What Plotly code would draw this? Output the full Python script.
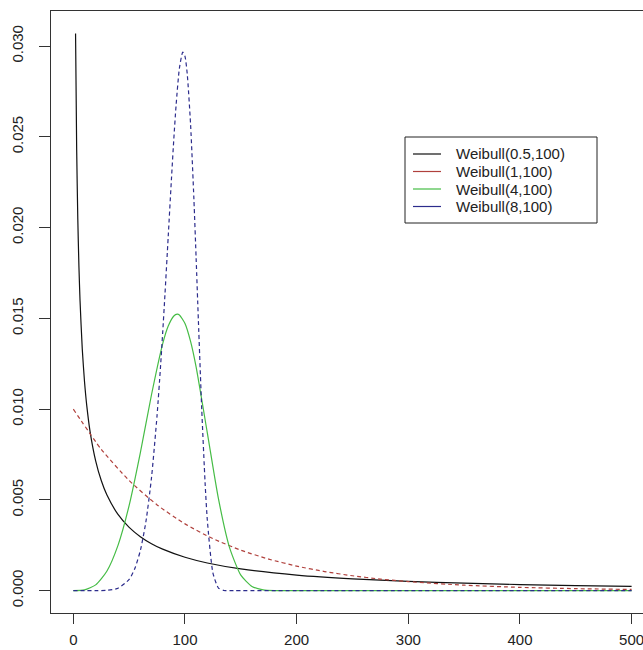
import plotly.graph_objects as go

# ---- data ----
names = ["Weibull(0.5,100)", "Weibull(1,100)", "Weibull(4,100)", "Weibull(8,100)"]

x_black = [2, 3, 4, 5, 6, 8, 10, 12, 15, 20, 25, 30, 40, 50, 60, 70, 80, 100, 120, 150,
           200, 250, 300, 350, 400, 450, 500]
y_black = [0.03069, 0.02428, 0.02047, 0.01788, 0.01598, 0.01332, 0.01152, 0.01021, 0.008764,
           0.007149, 0.006065, 0.005279, 0.00420, 0.003487, 0.002975, 0.002589, 0.002286,
           0.001839, 0.001526, 0.0011995, 0.0008596, 0.0006506, 0.0005107, 0.0004116,
           0.0003383, 0.0002826, 0.000239]

x_red = [0, 25, 50, 75, 100, 125, 150, 175, 200, 225, 250, 275, 300, 350, 400, 450, 500]
y_red = [0.0100, 0.007788, 0.006065, 0.004724, 0.003679, 0.002865, 0.002231, 0.001738,
         0.001353, 0.001054, 0.000821, 0.000639, 0.000498, 0.000302, 0.000183, 0.000111,
         0.0000674]

x_green = [0, 10, 20, 30, 40, 50, 60, 70, 80, 85, 90, 93, 95, 100, 105, 110, 120, 130, 140,
           150, 160, 170, 180, 200, 300, 400, 500]
y_green = [0.0, 0.00004, 0.0003195, 0.001071, 0.002495, 0.004697, 0.00759, 0.010792,
           0.013597, 0.014575, 0.01513, 0.015228, 0.015188, 0.014715, 0.013731, 0.012313,
           0.008691, 0.005053, 0.002356, 0.0008545, 0.0002335, 0.0000464, 0.0000064, 0.0,
           0.0, 0.0, 0.0]

x_blue = [0, 20, 30, 40, 50, 55, 60, 65, 70, 75, 78, 80, 82, 85, 88, 90, 92, 95, 98, 100,
          102, 105, 108, 110, 112, 115, 118, 120, 125, 130, 135, 140, 200, 300, 400, 500]
y_blue = [0.0, 0.000001, 0.0000175, 0.000131, 0.0006226, 0.0012078, 0.0022022, 0.0037988,
          0.0062193, 0.0096613, 0.012253, 0.014186, 0.016255, 0.019529, 0.022819, 0.024878,
          0.026713, 0.028776, 0.029664, 0.02943, 0.028474, 0.025689, 0.021539, 0.018275,
          0.01487, 0.0099866, 0.005941, 0.0038911, 0.000984, 0.0001439, 0.0000105, 0.0,
          0.0, 0.0, 0.0, 0.0]

x_ticks = [0, 100, 200, 300, 400, 500]
y_ticks = [0.000, 0.005, 0.010, 0.015, 0.020, 0.025, 0.030]

colors = ["#111111", "#B0403C", "#45BC45", "#2C2C8C"]
dashes = ["solid", "4px,3px", "solid", "4px,3px"]

series = [(x_black, y_black), (x_red, y_red), (x_green, y_green), (x_blue, y_blue)]

W, H = 643, 650
ML, MR, MT, MB = 51, 0, 11, 37
PW, PH = W - ML - MR, H - MT - MB


def px_x(p):
    return (p - ML) / PW


def px_y(p):
    return (H - MB - p) / PH


fig = go.Figure()
for (xs, ys), nm, c, d in zip(series, names, colors, dashes):
    fig.add_trace(go.Scatter(x=xs, y=ys, mode="lines", name=nm, showlegend=False,
                             line=dict(color=c, width=1.2, dash=d, shape="spline",
                                       smoothing=0.6)))

font = dict(family="Liberation Sans, Arial, sans-serif", size=15, color="#222222")

# legend box drawn like R's legend()
shapes = [dict(type="rect", xref="paper", yref="paper",
               x0=px_x(405), x1=px_x(597), y0=px_y(223), y1=px_y(137),
               line=dict(color="#222222", width=1), fillcolor="white", layer="above")]
annotations = []
row_y = [154, 171.5, 189, 206.5]
for nm, c, d, ry in zip(names, colors, dashes, row_y):
    shapes.append(dict(type="line", xref="paper", yref="paper",
                       x0=px_x(413), x1=px_x(441), y0=px_y(ry), y1=px_y(ry),
                       line=dict(color=c, width=1.2), layer="above"))
    annotations.append(dict(xref="paper", yref="paper", x=px_x(455), y=px_y(ry),
                            text=nm, showarrow=False, xanchor="left", yanchor="middle",
                            borderpad=0,
                            font=dict(family="Liberation Sans, Arial, sans-serif",
                                      size=15, color="#222222")))

fig.update_layout(
    width=W, height=H,
    margin=dict(l=ML, r=MR, t=MT, b=MB),
    paper_bgcolor="white", plot_bgcolor="white",
    template="none",
    font=font,
    showlegend=False,
    shapes=shapes,
    annotations=annotations,
)
fig.update_xaxes(range=[-20, 510.2], tickvals=x_ticks, ticktext=[str(v) for v in x_ticks],
                 showgrid=False, zeroline=False, showline=True, mirror=True,
                 linecolor="#333333", linewidth=1, ticks="outside", ticklen=10,
                 tickcolor="#333333", automargin=False, ticklabelstandoff=3,
                 ticklabeloverflow="allow")
fig.update_yaxes(range=[-0.00123, 0.03193], tickvals=y_ticks,
                 ticktext=[f"{v:.3f}" for v in y_ticks],
                 showgrid=False, zeroline=False, showline=True, mirror=False,
                 linecolor="#333333", linewidth=1, ticks="outside", ticklen=11,
                 tickcolor="#333333", tickangle=-90, automargin=False,
                 ticklabelstandoff=10)

fig.write_html("out.html")
